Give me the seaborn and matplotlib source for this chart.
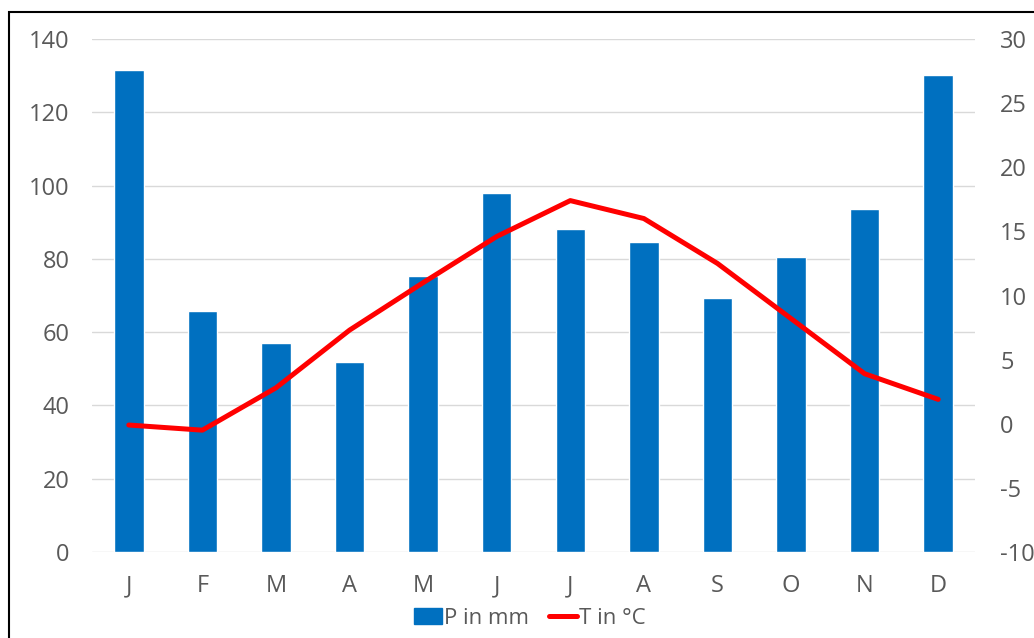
import pandas as pd
import matplotlib.pyplot as plt
import seaborn as sns
from matplotlib.patches import Patch, Rectangle
from matplotlib.lines import Line2D

# Klimadaten
months = ['J', 'F', 'M', 'A', 'M', 'J', 'J', 'A', 'S', 'O', 'N', 'D']
precip = [131.5, 65.8, 57.0, 51.9, 75.2, 98.1, 88.2, 84.5, 69.2, 80.5, 93.7, 130.1]
temp = [-0.1, -0.5, 2.8, 7.3, 11.0, 14.6, 17.4, 16.0, 12.5, 8.2, 3.9, 1.9]
p_ticks = [0, 20, 40, 60, 80, 100, 120, 140]
t_ticks = [-10, -5, 0, 5, 10, 15, 20, 25, 30]

df = pd.DataFrame({'idx': range(len(months)), 'P': precip, 'T': temp})

sns.set_style('white')
plt.rcParams['font.family'] = ['Open Sans', 'DejaVu Sans']
plt.rcParams['axes.unicode_minus'] = False

blue = '#0070C0'
red = '#FF0000'
grey = '#595959'

fig = plt.figure(figsize=(10.34, 6.38), dpi=100)
ax = fig.add_axes([92 / 1034, 86 / 638, 883 / 1034, 513 / 638])

sns.barplot(data=df, x='idx', y='P', color=blue, width=0.40, saturation=1, ax=ax)
ax.set_ylim(0, 140)
ax.set_yticks(p_ticks)
ax.set_xlim(-0.5, len(months) - 0.5)
ax.set_xticks(range(len(months)))
ax.set_xticklabels(months)
ax.grid(axis='y', color='#D9D9D9', linewidth=1)
ax.set_axisbelow(True)
ax.set_xlabel('')
ax.set_ylabel('')

ax2 = ax.twinx()
sns.lineplot(data=df, x='idx', y='T', color=red, linewidth=3.6, ax=ax2)
ax2.set_ylim(-10, 30)
ax2.set_yticks(t_ticks)
ax2.set_ylabel('')
ax2.set_xlabel('')

for a in (ax, ax2):
    for s in a.spines.values():
        s.set_visible(False)
    a.tick_params(length=0, labelsize=17, colors=grey)
ax.tick_params(axis='x', pad=16)
ax.tick_params(axis='y', pad=16)
ax2.tick_params(axis='y', pad=18)

# Legende unten mittig
handles = [Patch(facecolor=blue, edgecolor=blue),
           Line2D([0], [0], color=red, linewidth=3.6)]
fig.legend(handles, ['P in mm', 'T in °C'], loc='center', bbox_to_anchor=(530 / 1034, 1 - 618 / 638),
           ncol=2, frameon=False, fontsize=16, labelcolor=grey, handlelength=1.25,
           handletextpad=0.1, columnspacing=0.9, borderpad=0)

# Rahmen um die Grafik
fig.patches.append(Rectangle((9 / 1034, -0.1), 1.2, 1 - 12 / 638 + 0.1, transform=fig.transFigure,
                             fill=False, edgecolor='black', linewidth=1.5))

plt.savefig('out.png', dpi=100)
